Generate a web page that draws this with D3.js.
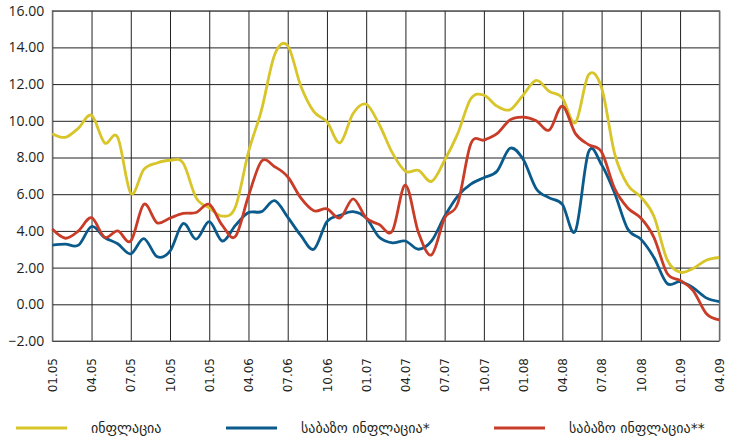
<!DOCTYPE html>
<html>
<head>
<meta charset="utf-8">
<script src="https://cdn.jsdelivr.net/npm/d3@7"></script>
<style>
  body { margin: 0; background: #fff; }
  svg { display: block; }
  .ytick text { font-family: "Open Sans", sans-serif; font-size: 14px; fill: #231f20; }
  .xtick text { font-family: "DejaVu Sans", sans-serif; font-size: 12px; fill: #231f20; }
  .legend text { font-family: "DejaVu Sans", sans-serif; font-size: 14px; fill: #231f20; }
</style>
</head>
<body>
<div id="chart"></div>
<script>
// quarter labels (every 3rd month), as printed on the original
const quarterLabels = ["01.05","04.05","07.05","10.05","01.05","04.06","07.06","10.06","01.07",
	"04.07","07.07","10.07","01.08","04.08","07.08","10.08","01.09","04.09"];
const yTicks = [-2, 0, 2, 4, 6, 8, 10, 12, 14, 16];

// monthly series, 01.05 - 04.09
const inflation = [9.3, 9.1, 9.6, 10.3, 8.8, 9.1, 6.05, 7.35, 7.7, 7.85, 7.7, 5.8,
	5.25, 4.8, 5.3, 8.3, 10.6, 13.6, 14.1, 11.9, 10.5, 9.95, 8.8, 10.4,
	10.9, 9.8, 8.25, 7.25, 7.3, 6.7, 7.85, 9.3, 11.2, 11.4, 10.8, 10.6,
	11.4, 12.2, 11.6, 11.25, 9.9, 12.5, 11.8, 8.2, 6.5, 5.85, 4.8, 2.45,
	1.75, 1.95, 2.4, 2.55];
const coreInflation1 = [3.22, 3.28, 3.22, 4.24, 3.64, 3.3, 2.75, 3.58, 2.6, 2.9, 4.4, 3.55,
	4.5, 3.45, 4.3, 5.0, 5.05, 5.65, 4.75, 3.75, 3.0, 4.5, 4.85, 5.05,
	4.7, 3.65, 3.35, 3.45, 3.0, 3.45, 4.8, 5.9, 6.55, 6.9, 7.25, 8.5,
	7.9, 6.3, 5.8, 5.45, 4.0, 8.3, 7.6, 6.05, 4.1, 3.55, 2.55, 1.14,
	1.23, 0.9, 0.35, 0.15];
const coreInflation2 = [4.1, 3.6, 4.0, 4.72, 3.65, 4.0, 3.45, 5.45, 4.45, 4.7, 4.95, 5.0,
	5.45, 4.3, 3.7, 5.9, 7.8, 7.5, 6.95, 5.8, 5.1, 5.2, 4.7, 5.75,
	4.7, 4.35, 4.0, 6.5, 3.9, 2.7, 4.7, 5.5, 8.75, 8.95, 9.3, 10.05,
	10.2, 10.0, 9.5, 10.8, 9.3, 8.7, 8.3, 6.3, 5.25, 4.7, 3.65, 1.7,
	1.3, 0.75, -0.5, -0.85];

const seriesNames = ["ინფლაცია", "საბაზო ინფლაცია*", "საბაზო ინფლაცია**"];
const seriesColors = ["#d8c52a", "#0b5a8c", "#c83c28"];

const width = 734, height = 445;
const margin = { left: 52.3, right: 14.7, top: 10.7, bottom: 104 };

const svg = d3.select("#chart").append("svg")
	.attr("width", width)
	.attr("height", height);

const x = d3.scaleLinear()
	.domain([0, inflation.length - 1])
	.range([margin.left, width - margin.right]);

const y = d3.scaleLinear()
	.domain([-2, 16])
	.range([height - margin.bottom, margin.top]);

// horizontal grid + y labels
const yAxis = svg.append("g")
	.attr("class", "ytick")
	.attr("transform", `translate(${margin.left},0)`)
	.call(d3.axisLeft(y)
		.tickValues(yTicks)
		.tickFormat(d3.format(".2f"))
		.tickSize(-(width - margin.left - margin.right))
		.tickPadding(8));
yAxis.select(".domain").remove();
yAxis.selectAll("line").attr("stroke", "#222").attr("stroke-width", 1);

// vertical grid + rotated x labels
const xAxis = svg.append("g")
	.attr("class", "xtick")
	.attr("transform", `translate(0,${height - margin.bottom})`)
	.call(d3.axisBottom(x)
		.tickValues(d3.range(0, inflation.length, 3))
		.tickFormat((d, i) => quarterLabels[i])
		.tickSize(-(height - margin.top - margin.bottom)));
xAxis.select(".domain").remove();
xAxis.selectAll("line").attr("stroke", "#222").attr("stroke-width", 1);
xAxis.selectAll("text")
	.attr("transform", "rotate(-90)")
	.attr("x", -17)
	.attr("y", 0)
	.attr("dy", "0.35em")
	.attr("text-anchor", "end");

// frame
svg.append("rect")
	.attr("x", margin.left)
	.attr("y", margin.top)
	.attr("width", width - margin.left - margin.right)
	.attr("height", height - margin.top - margin.bottom)
	.attr("fill", "none")
	.attr("stroke", "#6d6d6d")
	.attr("stroke-width", 1);

const line = d3.line()
	.x((d, i) => x(i))
	.y(d => y(d))
	.curve(d3.curveCardinal.tension(0));

[inflation, coreInflation1, coreInflation2].forEach((s, k) => {
	svg.append("path")
		.datum(s)
		.attr("fill", "none")
		.attr("stroke", seriesColors[k])
		.attr("stroke-width", 2.8)
		.attr("stroke-linejoin", "round")
		.attr("d", line);
});

// legend
const legendX = [16, 226, 494];
const legend = svg.append("g").attr("class", "legend");
seriesNames.forEach((name, k) => {
	legend.append("line")
		.attr("x1", legendX[k]).attr("x2", legendX[k] + 51)
		.attr("y1", 428).attr("y2", 428)
		.attr("stroke", seriesColors[k])
		.attr("stroke-width", 3);
	legend.append("text")
		.attr("x", legendX[k] + 75)
		.attr("y", 433)
		.text(name);
});
</script>
</body>
</html>
